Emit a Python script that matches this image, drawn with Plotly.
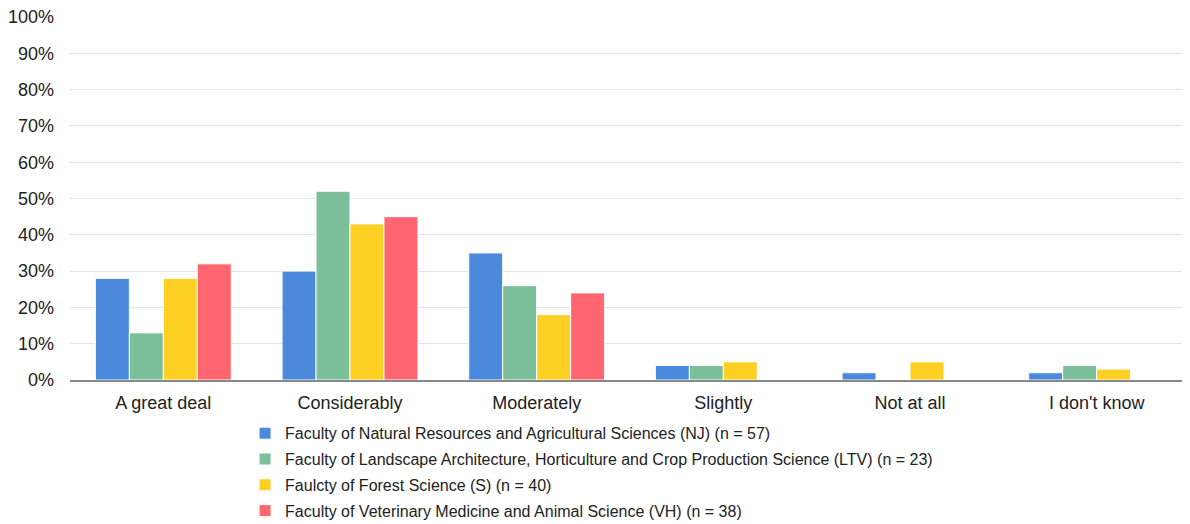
import plotly.graph_objects as go

# === Dados === #
categorias = ["A great deal", "Considerably", "Moderately", "Slightly", "Not at all", "I don't know"]

nomes = [
    "Faculty of Natural Resources and Agricultural Sciences (NJ) (n = 57)",
    "Faculty of Landscape Architecture, Horticulture and Crop Production Science (LTV) (n = 23)",
    "Faulcty of Forest Science (S) (n = 40)",
    "Faculty of Veterinary Medicine and Animal Science (VH) (n = 38)",
]

nj = [28, 30, 35, 4, 2, 2]
ltv = [13, 52, 26, 4, 0, 4]
s = [28, 43, 18, 5, 5, 3]
vh = [32, 45, 24, 0, 0, 0]

cores = ["#4a89dc", "#7bc09b", "#fdd023", "#ff6670"]

# === Plot === #
fig = go.Figure()

for i, (nome, valores, cor) in enumerate(zip(nomes, [nj, ltv, s, vh], cores)):
    fig.add_trace(go.Bar(
        x=categorias, y=valores,
        name=nome,
        legendgroup=f"g{i}",
        marker=dict(color=cor, line=dict(color="white", width=1)),
    ))

# a página tem 8px de margem no body: figura 8px menor e margens compensadas
fig.update_layout(
    barmode="group",
    bargap=0.272,
    bargroupgap=0,
    font=dict(family="Liberation Sans, Arial, sans-serif", color="#222222"),
    xaxis=dict(
        tickfont=dict(size=18),
        showline=True, linecolor="#888888", linewidth=1.5,
        ticks="",
        ticklabelstandoff=6,
    ),
    yaxis=dict(
        range=[0, 100],
        dtick=10,
        ticksuffix="%",
        tickfont=dict(size=18),
        gridcolor="#e3e3e3",
        zeroline=False,
        ticklabelstandoff=15,
        ticklabeloverflow="allow",
    ),
    showlegend=True,
    legend=dict(
        orientation="v",
        font=dict(size=16),
        yanchor="top", y=-0.1,
        xanchor="left", x=0.1563,
        tracegroupgap=2,
        itemwidth=30,
    ),
    plot_bgcolor="White",
    paper_bgcolor="White",
    template="plotly_white",
    margin=dict(l=62, r=0, t=9, b=144, autoexpand=False),
    width=1182, height=516,
)

fig.write_html("out.html")
